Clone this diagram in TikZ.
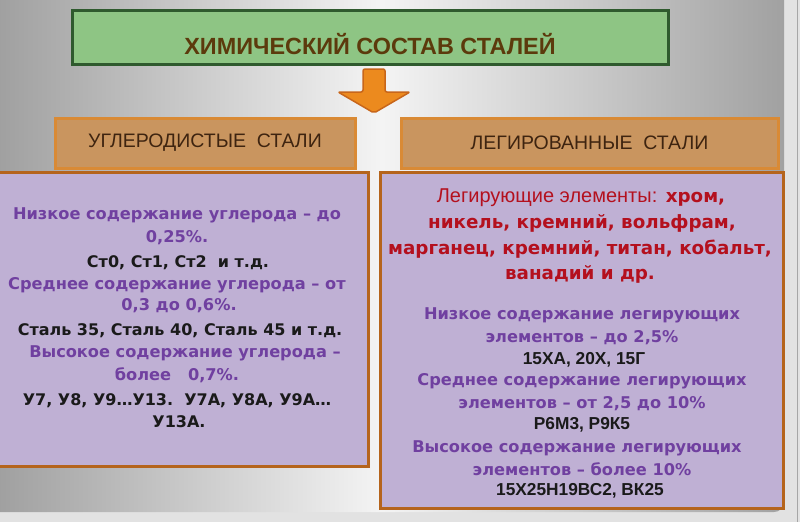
\documentclass[tikz,border=0pt]{standalone}
\usepackage{fontspec}
\setmainfont{DejaVu Sans}
\newfontfamily\arialfont{Liberation Sans}
\usetikzlibrary{positioning}
\definecolor{titlegreen}{HTML}{8EC584}
\definecolor{titleborder}{HTML}{2F5A2E}
\definecolor{titletext}{HTML}{5C3A0C}
\definecolor{headfill}{HTML}{C9955F}
\definecolor{headborder}{HTML}{D98A35}
\definecolor{headtext}{HTML}{3E2410}
\definecolor{panelfill}{HTML}{BFB0D4}
\definecolor{panelborder}{HTML}{B5641C}
\definecolor{lowpurple}{HTML}{7040A0}
\definecolor{elemred}{HTML}{B4101E}
\definecolor{gradeblack}{HTML}{1A1A1A}
\definecolor{arroworange}{HTML}{EC8A1E}
\definecolor{arrowborder}{HTML}{C8661A}
\definecolor{bgdark}{HTML}{9C9C9C}
\definecolor{bglight}{HTML}{F4F4F4}
\tikzset{
  titlebox/.style={
    draw=titleborder, line width=3pt, fill=titlegreen,
    minimum width=596pt, minimum height=54pt
  },
  titlefont/.style={
    font=\arialfont\bfseries\fontsize{23.4}{27}\selectfont,
    color=titletext
  },
  headbox/.style={
    draw=headborder, line width=3pt, fill=headfill,
    minimum height=50pt,
    font=\arialfont\fontsize{19.5}{22}\selectfont, text=headtext
  },
  panel/.style={
    draw=panelborder, line width=3pt, fill=panelfill
  },
  arrowshape/.style={
    fill=arroworange, draw=arrowborder, line width=1.5pt,
    rounded corners=2pt, line join=round
  },
  txt/.style={
    inner sep=0pt, text height=0.75em, text depth=0.2em
  },
  rangetxt/.style={
    txt, font=\bfseries\fontsize{16.2}{19}\selectfont, color=lowpurple
  },
  gradetxt/.style={
    txt, font=\bfseries\fontsize{16}{19}\selectfont, color=gradeblack
  },
  gradetxtb/.style={
    txt, font=\arialfont\bfseries\fontsize{17.3}{20}\selectfont, color=gradeblack
  },
  elemtxt/.style={
    txt, font=\bfseries\fontsize{18.3}{21}\selectfont, color=elemred
  }
}
\begin{document}
\begin{tikzpicture}[x=1pt, y=-1pt]
  \useasboundingbox (0,0) rectangle (800,522);

  % Background
  \fill[bglight!85!gray] (0,0) rectangle (800,522);
  \shade[left color=bgdark, right color=bgdark!95!white, middle color=bglight,
    rounded corners=10pt] (-20,-20) rectangle (784,512);
  \draw[gray!70, line width=1pt] (797,0) -- (797,522);

  % Title
  \node[titlebox] (title) at (370,37) {};
  \node[titlefont] (titletext) at (370,44) {ХИМИЧЕСКИЙ СОСТАВ СТАЛЕЙ};

  % Arrow
  \draw[arrowshape] (363,69) -- (385,69) -- (385,92) -- (410,92)
    -- (374,113) -- (338,92) -- (363,92) -- cycle;

  % Headers
  \node[headbox, minimum width=300pt] (carbon) at (205,143) {УГЛЕРОДИСТЫЕ\ \ СТАЛИ};
  \node[headbox, minimum width=377pt] (alloy) at (589.5,143) {ЛЕГИРОВАННЫЕ\ \ СТАЛИ};

  % Panels
  \node[panel, minimum width=373pt, minimum height=294pt] (carbonpanel) at (181.5,319) {};
  \node[panel, minimum width=403pt, minimum height=336pt] (alloypanel) at (581.5,340) {};

  % Carbon steels
  \node[rangetxt] (c1) at (177,217) {Низкое содержание углерода – до};
  \node[rangetxt] (c2) at (177,240) {0,25\%.};
  \node[gradetxt] (c3) at (178,265) {Ст0, Ст1, Ст2\ \ и т.д.};
  \node[rangetxt] (c4) at (177,287) {Среднее содержание углерода – от};
  \node[rangetxt] (c5) at (179,308) {0,3 до 0,6\%.};
  \node[gradetxt] (c6) at (180,333) {Сталь 35, Сталь 40, Сталь 45 и т.д.};
  \node[rangetxt] (c7) at (185,355) {Высокое содержание углерода –};
  \node[rangetxt] (c8) at (177,378) {более\ \ \ 0,7\%.};
  \node[gradetxt] (c9) at (177,403) {У7, У8, У9…У13.\ \ У7А, У8А, У9А…};
  \node[gradetxt] (c10) at (179,425) {У13А.};

  % Alloy steels
  \node[elemtxt] (a1) at (581,200) {{\arialfont\mdseries\fontsize{20}{22}\selectfont Легирующие элементы:} хром,};
  \node[elemtxt] (a2) at (582,226) {никель, кремний, вольфрам,};
  \node[elemtxt] (a3) at (580,252) {марганец, кремний, титан, кобальт,};
  \node[elemtxt] (a4) at (580,277) {ванадий и др.};
  \node[rangetxt] (a5) at (582,317) {Низкое содержание легирующих};
  \node[rangetxt] (a6) at (582,340) {элементов – до 2,5\%};
  \node[gradetxtb] (a7) at (584,362) {15ХА, 20Х, 15Г};
  \node[rangetxt] (a8) at (582,383) {Среднее содержание легирующих};
  \node[rangetxt] (a9) at (582,406) {элементов – от 2,5 до 10\%};
  \node[gradetxtb] (a10) at (582,427) {Р6М3, Р9К5};
  \node[rangetxt] (a11) at (577,450) {Высокое содержание легирующих};
  \node[rangetxt] (a12) at (582,473) {элементов – более 10\%};
  \node[gradetxtb] (a13) at (580,493) {15Х25Н19ВС2, ВК25};
\end{tikzpicture}
\end{document}
